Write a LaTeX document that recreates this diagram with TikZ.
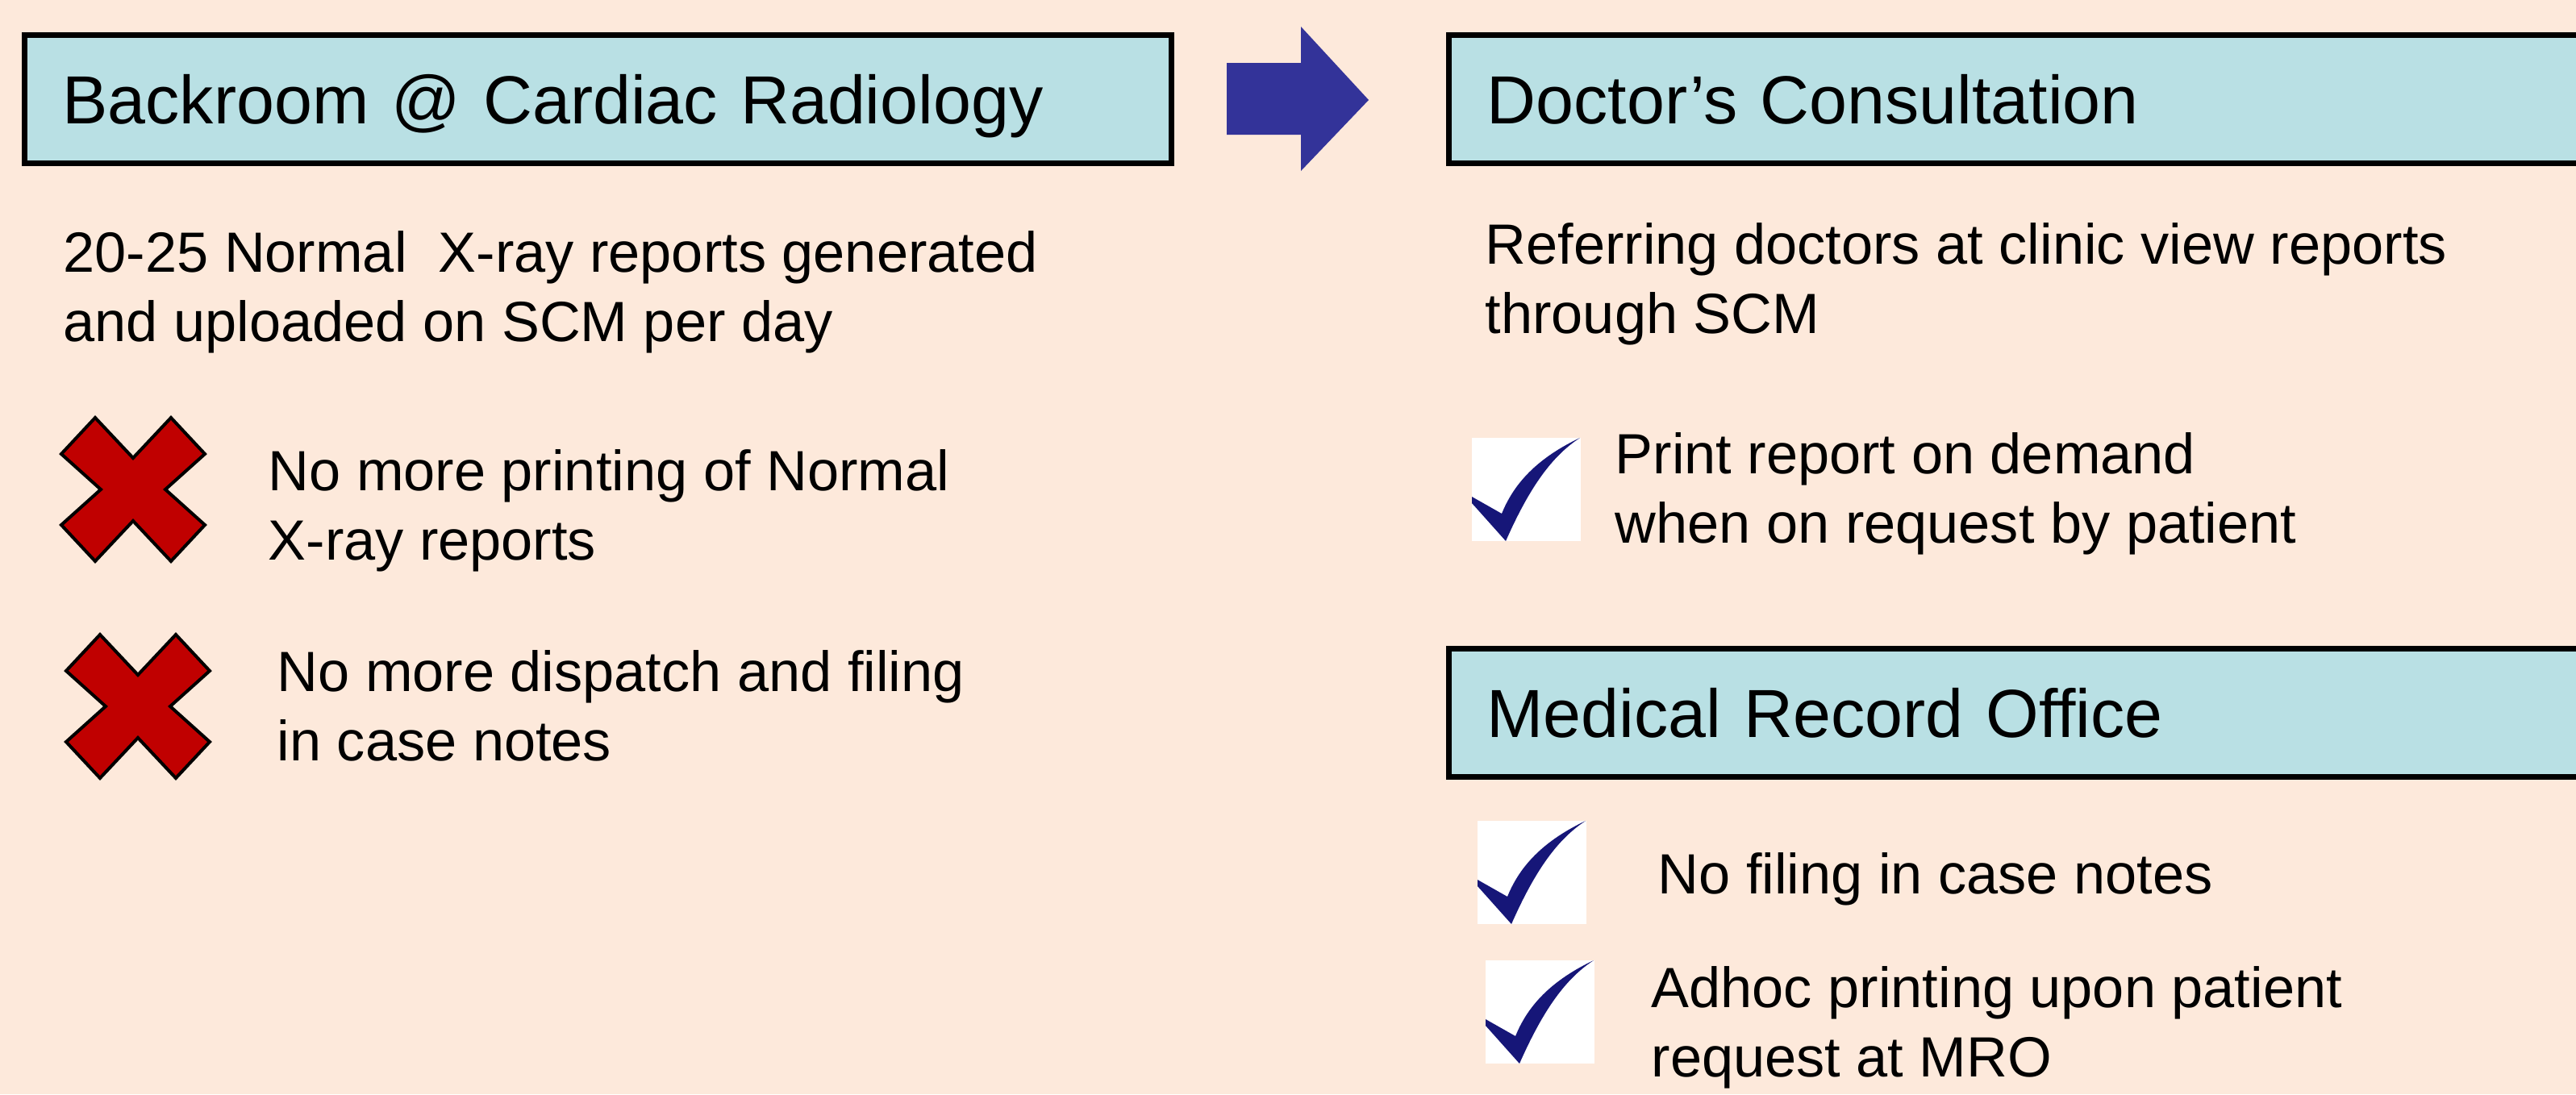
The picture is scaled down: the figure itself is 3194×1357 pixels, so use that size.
\documentclass[tikz,border=0pt]{standalone}
\usepackage{fontspec}
\setmainfont{Liberation Sans}
\definecolor{peach}{RGB}{253,233,219}
\definecolor{paleaqua}{RGB}{185,224,228}
\definecolor{arrowblue}{RGB}{51,51,153}
\definecolor{crossred}{RGB}{192,0,0}
\definecolor{ticknavy}{RGB}{22,22,120}
\tikzset{
	headbox/.style={draw=black, line width=0.07cm, fill=paleaqua, anchor=west, minimum height=1.58cm, inner xsep=0.47cm, inner ysep=0pt, text height=0.61cm, text depth=0pt, align=left, font=\fontsize{24}{29}\selectfont},
	bodytext/.style={anchor=base west, inner sep=0pt, align=left, font=\fontsize{20}{24.4}\selectfont},
}
\def\crossmark(#1,#2){\draw[fill=crossred, line width=0.04cm, line join=miter, shift={(#1,#2)}] (-47,-89) -- (0,-39) -- (47,-89) -- (89,-44) -- (40,0) -- (89,44) -- (47,89) -- (0,39) -- (-47,89) -- (-89,44) -- (-40,0) -- (-89,-44) -- cycle;}
\def\tickmark(#1,#2){\fill[white] (#1,#2) rectangle ++(135,128); \fill[ticknavy, shift={(#1,#2)}] (0,73) -- (37,94) .. controls (50,62) and (75,28) .. (134,0) .. controls (100,22) and (72,60) .. (42,128) -- (0,81) -- cycle;}

\begin{document}
\begin{tikzpicture}[x=0.01cm, y=-0.01cm]
			%%%%% START %%%%%
			\useasboundingbox (0,0) rectangle (3194,1357);
			\fill[peach] (0,0) rectangle (3194,1357);
			
			% headings
			\node[headbox, text width=13.27cm] (backroom) at (27,123) {Backroom @ Cardiac Radiology};
			\node[headbox, text width=13.50cm] (doctor) at (1793,123) {Doctor’s Consultation};
			\node[headbox, text width=13.50cm] (mro) at (1793,884) {Medical Record Office};
			
			\fill[arrowblue] (1521,78) -- (1613,78) -- (1613,33) -- (1697,124) -- (1613,212) -- (1613,167) -- (1521,167) -- cycle;
			
			% left column (base = last line)
			\node[bodytext] (reports) at (78,423) {20-25 Normal\ \ X-ray reports generated\\and uploaded on SCM per day};
			\crossmark(165,607)
			\node[bodytext] (noprint) at (332,694) {No more printing of Normal\\X-ray reports};
			\crossmark(171,876)
			\node[bodytext] (nodispatch) at (343,943) {No more dispatch and filing\\in case notes};
			
			% right column
			\node[bodytext] (referring) at (1841,413) {Referring doctors at clinic view reports\\through SCM};
			\tickmark(1825,543)
			\node[bodytext] (ondemand) at (2002,673) {Print report on demand\\when on request by patient};
			\tickmark(1832,1018)
			\node[bodytext] (nofiling) at (2055,1108) {No filing in case notes};
			\tickmark(1842,1191)
			\node[bodytext] (adhoc) at (2047,1335) {Adhoc printing upon patient\\request at MRO};
			%%%%% END %%%%%
		\end{tikzpicture}
\end{document}
